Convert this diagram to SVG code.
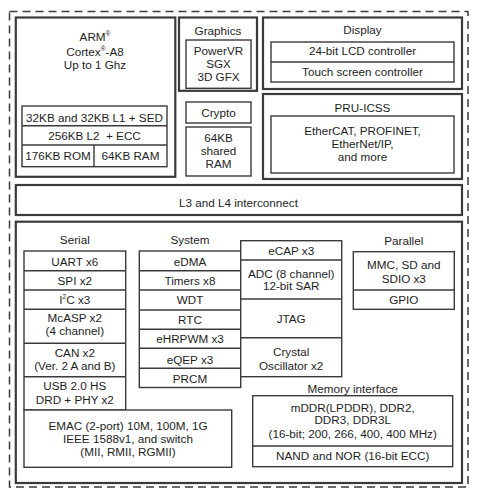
<svg xmlns="http://www.w3.org/2000/svg" width="480" height="498" viewBox="0 0 480 498">
<style>
text{font-family:"Liberation Sans",Arial,sans-serif;font-size:11.7px;fill:#1e1e1e;text-anchor:middle}
.o{fill:#fff;stroke:#3a3a3a;stroke-width:2.2}
.i{fill:#fff;stroke:#3a3a3a;stroke-width:1.4}
.l{fill:none;stroke:#3a3a3a;stroke-width:1.4}
.sup{font-size:6.5px}
</style>
<rect x="0" y="0" width="480" height="498" fill="#fff"/>
<rect id="boundary" x="9.5" y="11.5" width="458.5" height="475.5" fill="none" stroke="#3a3a3a" stroke-width="1.5" stroke-dasharray="8,5"/>
<g id="connectors"/>
<g id="arm">
<rect class="o" x="15.8" y="17.5" width="159.5" height="159.3"/>
<text x="95" y="40.5">ARM<tspan class="sup" dy="-5">®</tspan></text>
<text x="95" y="55.5">Cortex<tspan class="sup" dy="-5">®</tspan><tspan dy="5">-A8</tspan></text>
<text x="95" y="69.3">Up to 1 Ghz</text>
<rect class="i" x="22" y="106" width="145" height="60.7"/>
<line class="l" x1="22" y1="125.7" x2="167" y2="125.7"/>
<line class="l" x1="22" y1="145" x2="167" y2="145"/>
<line class="l" x1="94" y1="145" x2="94" y2="166.7"/>
<text x="94.5" y="121.5">32KB and 32KB L1 + SED</text>
<text x="94.5" y="140" xml:space="preserve">256KB L2  + ECC</text>
<text x="58" y="159.5">176KB ROM</text>
<text x="130.5" y="159.5">64KB RAM</text>
</g>
<g id="graphics">
<rect class="o" x="179" y="17.5" width="78" height="73.3"/>
<text x="218" y="35">Graphics</text>
<rect class="i" x="186" y="40" width="65" height="48.3"/>
<text x="218.5" y="55">PowerVR</text>
<text x="218.5" y="67.7">SGX</text>
<text x="218.5" y="81">3D GFX</text>
</g>
<g id="crypto">
<rect class="i" x="186" y="102" width="65" height="21"/>
<text x="218.5" y="116.7">Crypto</text>
</g>
<g id="shared-ram">
<rect class="i" x="186" y="127" width="65" height="49"/>
<text x="218.5" y="141.5">64KB</text>
<text x="218.5" y="155">shared</text>
<text x="218.5" y="168.3">RAM</text>
</g>
<g id="display">
<rect class="o" x="263" y="17.5" width="199" height="71.5"/>
<text x="362.5" y="34.4">Display</text>
<rect class="i" x="271" y="42" width="183" height="40"/>
<line class="l" x1="271" y1="62" x2="454" y2="62"/>
<text x="362.5" y="55">24-bit LCD controller</text>
<text x="362.5" y="76">Touch screen controller</text>
</g>
<g id="pru-icss">
<rect class="o" x="263" y="94" width="199" height="85"/>
<text x="362.5" y="112.3">PRU-ICSS</text>
<rect class="i" x="271" y="116" width="183" height="57"/>
<text x="362.5" y="134.5">EtherCAT, PROFINET,</text>
<text x="362.5" y="148">EtherNet/IP,</text>
<text x="362.5" y="161">and more</text>
</g>
<g id="interconnect">
<rect class="o" x="15.8" y="185" width="446.2" height="30"/>
<text x="238.5" y="206.7">L3 and L4 interconnect</text>
</g>
<g id="peripherals">
<rect class="o" x="15.8" y="221.7" width="446.2" height="261.3"/>
</g>
<g id="serial">
<text x="74.8" y="244.3">Serial</text>
<rect class="i" x="24" y="251" width="101.7" height="159"/>
<line class="l" x1="24" y1="270.7" x2="125.7" y2="270.7"/>
<line class="l" x1="24" y1="290" x2="125.7" y2="290"/>
<line class="l" x1="24" y1="309.3" x2="125.7" y2="309.3"/>
<line class="l" x1="24" y1="343.3" x2="125.7" y2="343.3"/>
<line class="l" x1="24" y1="376.7" x2="125.7" y2="376.7"/>
<text x="74.8" y="265.5">UART x6</text>
<text x="74.8" y="285">SPI x2</text>
<text x="74.8" y="304">I<tspan class="sup" dy="-5">2</tspan><tspan dy="5">C x3</tspan></text>
<text x="74.8" y="322">McASP x2</text>
<text x="74.8" y="335">(4 channel)</text>
<text x="74.8" y="356.7">CAN x2</text>
<text x="74.8" y="369.5">(Ver. 2 A and B)</text>
<text x="74.8" y="390">USB 2.0 HS</text>
<text x="74.8" y="404">DRD + PHY x2</text>
</g>
<g id="emac">
<rect class="i" x="24" y="410" width="207.7" height="57.3"/>
<text x="128" y="429.5">EMAC (2-port) 10M, 100M, 1G</text>
<text x="128" y="442.5">IEEE 1588v1, and switch</text>
<text x="128" y="455.5">(MII, RMII, RGMII)</text>
</g>
<g id="system">
<text x="190" y="244.3">System</text>
<rect class="i" x="139.3" y="251" width="101.4" height="136.5"/>
<line class="l" x1="139.3" y1="270.7" x2="240.7" y2="270.7"/>
<line class="l" x1="139.3" y1="290" x2="240.7" y2="290"/>
<line class="l" x1="139.3" y1="310" x2="240.7" y2="310"/>
<line class="l" x1="139.3" y1="329.3" x2="240.7" y2="329.3"/>
<line class="l" x1="139.3" y1="348.3" x2="240.7" y2="348.3"/>
<line class="l" x1="139.3" y1="368.3" x2="240.7" y2="368.3"/>
<text x="190" y="265.7">eDMA</text>
<text x="190" y="285">Timers x8</text>
<text x="190" y="304.3">WDT</text>
<text x="190" y="324">RTC</text>
<text x="190" y="343.3">eHRPWM x3</text>
<text x="190" y="363.5">eQEP x3</text>
<text x="190" y="382.7">PRCM</text>
<rect class="i" x="240.7" y="240.7" width="101" height="136"/>
<line class="l" x1="240.7" y1="260" x2="341.7" y2="260"/>
<line class="l" x1="240.7" y1="299" x2="341.7" y2="299"/>
<line class="l" x1="240.7" y1="337.7" x2="341.7" y2="337.7"/>
<text x="291.2" y="255.3">eCAP x3</text>
<text x="291.2" y="278">ADC (8 channel)</text>
<text x="291.2" y="290">12-bit SAR</text>
<text x="291.2" y="323.3">JTAG</text>
<text x="291.2" y="356">Crystal</text>
<text x="291.2" y="370">Oscillator x2</text>
</g>
<g id="parallel">
<text x="403.8" y="245">Parallel</text>
<rect class="i" x="353.3" y="251.7" width="101" height="57.6"/>
<line class="l" x1="353.3" y1="290" x2="454.3" y2="290"/>
<text x="403.8" y="269.3">MMC, SD and</text>
<text x="403.8" y="282.5">SDIO x3</text>
<text x="403.8" y="304.3">GPIO</text>
</g>
<g id="memory">
<text x="352.7" y="392.5">Memory interface</text>
<rect class="i" x="252.7" y="395.7" width="200" height="71"/>
<line class="l" x1="252.7" y1="446" x2="452.7" y2="446"/>
<text x="352.7" y="411.5">mDDR(LPDDR), DDR2,</text>
<text x="352.7" y="424">DDR3, DDR3L</text>
<text x="352.7" y="437.5">(16-bit; 200, 266, 400, 400 MHz)</text>
<text x="352.7" y="460">NAND and NOR (16-bit ECC)</text>
</g>
</svg>
